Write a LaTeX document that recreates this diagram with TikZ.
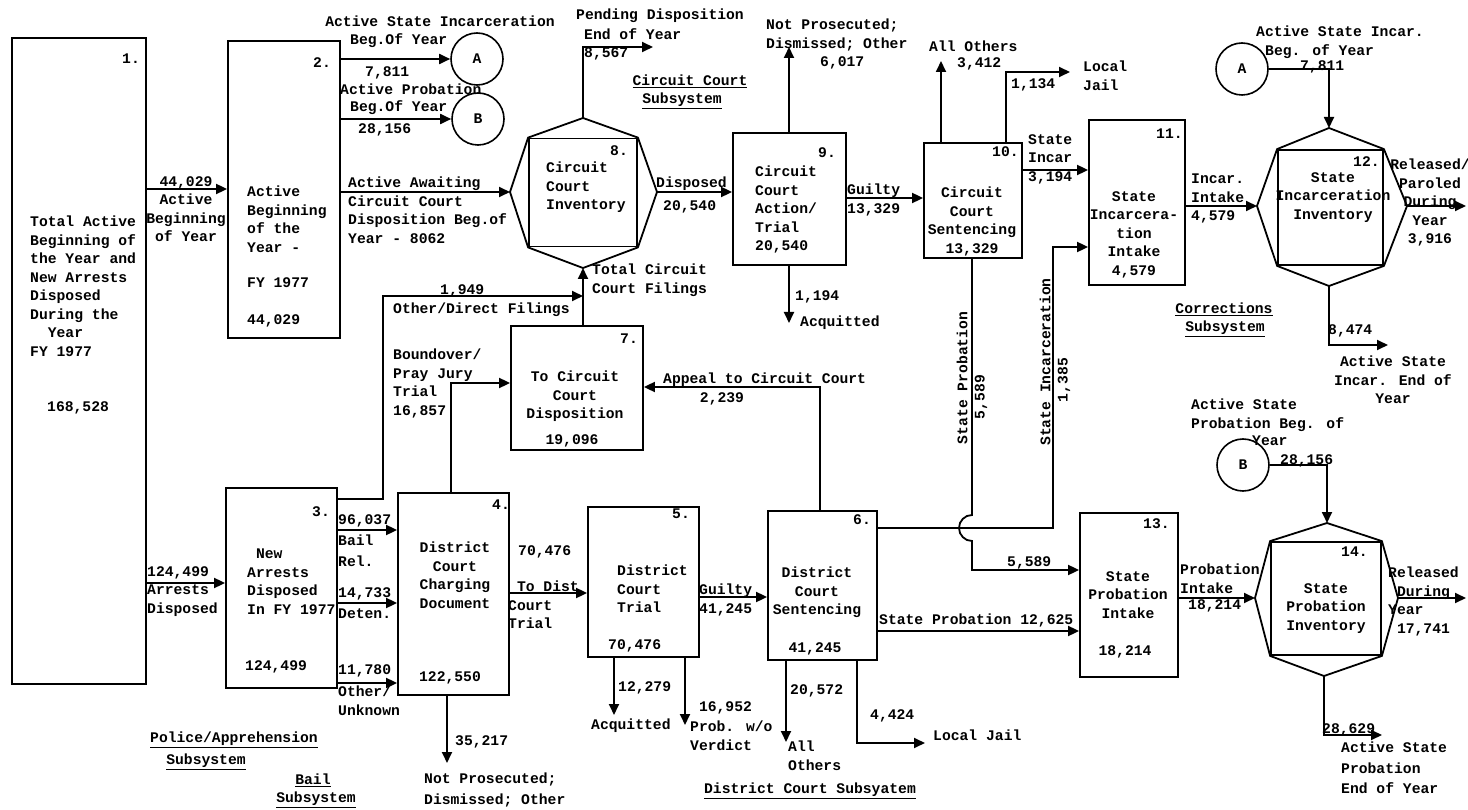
\documentclass[tikz,border=0pt]{standalone}
\usepackage{fontspec}
\setmainfont{Liberation Mono}
\usetikzlibrary{arrows.meta}
\begin{document}
\begin{tikzpicture}[x=1pt,y=-1pt,
  font=\fontsize{14.7}{18.5}\selectfont\bfseries,
  box/.style={draw, line width=1.8pt, inner sep=0pt},
  ln/.style={line width=1.8pt},
  flow/.style={line width=1.8pt, -{Triangle[length=11pt,width=10pt]}},
  tl/.style={anchor=north west, inner sep=0pt, align=left, yshift=6pt},
  tc/.style={anchor=north, inner sep=0pt, align=center, yshift=6pt},
  vt/.style={rotate=90, inner sep=0pt},
  circ/.style={draw, circle, line width=1.6pt, minimum size=52pt, inner sep=0pt}]
\fill[white] (0,0) rectangle (1468,810);
\useasboundingbox (0,0) rectangle (1468,810);

% ---------- boxes ----------
\node[box, minimum width=134pt, minimum height=646pt] (b1) at (79,361) {};
\node[box, minimum width=112pt, minimum height=297pt] (b2) at (284,189.5) {};
\node[box, minimum width=111pt, minimum height=200pt] (b3) at (281.5,588) {};
\node[box, minimum width=111pt, minimum height=202pt] (b4) at (453.5,594) {};
\node[box, minimum width=111pt, minimum height=150pt] (b5) at (643.5,582) {};
\node[box, minimum width=109pt, minimum height=149pt] (b6) at (822.5,585.5) {};
\node[box, minimum width=132pt, minimum height=124pt] (b7) at (577,388) {};
\node[box, minimum width=108pt, minimum height=108pt] (b8) at (583,192.5) {};
\node[box, minimum width=113pt, minimum height=132pt] (b9) at (789.5,199) {};
\node[box, minimum width=98pt, minimum height=115pt] (b10) at (973,200.5) {};
\node[box, minimum width=96pt, minimum height=165pt] (b11) at (1137,202.5) {};
\node[box, minimum width=105pt, minimum height=115pt] (b12) at (1330.5,207.5) {};
\node[box, minimum width=98pt, minimum height=164pt] (b13) at (1129,595) {};
\node[box, minimum width=110pt, minimum height=113pt] (b14) at (1326,598.5) {};

% ---------- circles ----------
\node[circ] (A1) at (477,59) {A};
\node[circ] (B1) at (478,119) {B};
\node[circ] (A2) at (1242,69) {A};
\node[circ] (B2) at (1243,465) {B};

% ---------- hexagon apexes ----------
\coordinate (h8t) at (583,118);
\coordinate (h8l) at (510,192);
\coordinate (h8r) at (657,192);
\coordinate (h8b) at (583,268);
\coordinate (h12t) at (1329,128);
\coordinate (h12l) at (1257,206);
\coordinate (h12r) at (1407,206);
\coordinate (h12b) at (1329,286);
\coordinate (h14t) at (1327,523);
\coordinate (h14l) at (1255,598);
\coordinate (h14r) at (1398,598);
\coordinate (h14b) at (1324,676);
\draw[ln] (h8t) -- (b8.north east) -- (h8r) -- (b8.south east) -- (h8b) -- (b8.south west) -- (h8l) -- (b8.north west) -- cycle;
\draw[ln] (h12t) -- (b12.north east) -- (h12r) -- (b12.south east) -- (h12b) -- (b12.south west) -- (h12l) -- (b12.north west) -- cycle;
\draw[ln] (h14t) -- (b14.north east) -- (h14r) -- (b14.south east) -- (h14b) -- (b14.south west) -- (h14l) -- (b14.north west) -- cycle;

% ---------- free ends ----------
\coordinate (e8top) at (653,47);
\coordinate (e9top) at (789,47);
\coordinate (e9bot) at (789,323);
\coordinate (e10top) at (941,61);
\coordinate (e10jail) at (1070,72);
\coordinate (e12out) at (1466,206);
\coordinate (e12bot) at (1388,345);
\coordinate (e14out) at (1466,598);
\coordinate (e14bot) at (1382,735);
\coordinate (e4bot) at (447,763);
\coordinate (e5acq) at (614,715);
\coordinate (e5prob) at (685,725);
\coordinate (e6oth) at (786,742);
\coordinate (e6jail) at (925,743);

% ---------- connectors ----------
\draw[flow] (b1.east |- 0,189) -- (b2.west |- 0,189);
\draw[flow] (b2.east |- A1.west) -- (A1.west);
\draw[flow] (b2.east |- B1.west) -- (B1.west);
\draw[flow] (b2.east |- h8l) -- (h8l);
\draw[flow] (h8t) -- (h8t |- e8top) -- (e8top);
\draw[flow] (h8r) -- (b9.west |- h8r);
\draw[flow] (h8b |- b7.north) -- (h8b);
\draw[flow] (b3.east |- 0,499) -- (383,499) -- (383,296) -- (h8b |- 0,296);
\draw[flow] (451,0 |- b4.north) -- (451,383) -- (b7.west |- 0,383);
\draw[flow] (820,0 |- b6.north) -- (820,387) -- (b7.east |- 0,387);
\draw[flow] (789,0 |- b9.north) -- (e9top);
\draw[flow] (789,0 |- b9.south) -- (e9bot);
\draw[flow] (b9.east |- 0,198) -- (b10.west |- 0,198);
\draw[flow] (941,0 |- b10.north) -- (e10top);
\draw[flow] (1006,0 |- b10.north) -- (1006,72) -- (e10jail);
\draw[flow] (b10.east |- 0,170) -- (b11.west |- 0,170);
\draw[flow] (b11.east |- h12l) -- (h12l);
\draw[flow] (A2.east) -- (h12t |- A2.east) -- (h12t);
\draw[flow] (h12r) -- (e12out);
\draw[flow] (h12b) -- (h12b |- e12bot) -- (e12bot);
\draw[flow] (972,0 |- b10.south) -- (972,515) arc[start angle=270, end angle=90, radius=13] -- (972,570) -- (b13.west |- 0,570);
\draw[flow] (b6.east |- 0,528) -- (1053,528) -- (1053,247) -- (b11.west |- 0,247);
\draw[flow] (b6.east |- 0,631) -- (b13.west |- 0,631);
\draw[flow] (b13.east |- h14l) -- (h14l);
\draw[flow] (B2.east) -- (h14t |- B2.east) -- (h14t);
\draw[flow] (h14r) -- (e14out);
\draw[flow] (h14b) -- (h14b |- e14bot) -- (e14bot);
\draw[flow] (b1.east |- 0,583) -- (b3.west |- 0,583);
\draw[flow] (b3.east |- 0,530) -- (b4.west |- 0,530);
\draw[flow] (b3.east |- 0,603) -- (b4.west |- 0,603);
\draw[flow] (b3.east |- 0,683) -- (b4.west |- 0,683);
\draw[flow] (447,0 |- b4.south) -- (e4bot);
\draw[flow] (b4.east |- 0,593) -- (b5.west |- 0,593);
\draw[flow] (b5.east |- 0,597) -- (b6.west |- 0,597);
\draw[flow] (614,0 |- b5.south) -- (e5acq);
\draw[flow] (685,0 |- b5.south) -- (e5prob);
\draw[flow] (786,0 |- b6.south) -- (e6oth);
\draw[flow] (857,0 |- b6.south) -- (857,743) -- (e6jail);

% ---------- texts: box 1, 2 ----------
\node[tl] (n1) at (122,60) {1.};
\node[tl] (t1) at (30,222) {Total Active\\Beginning of\\the Year and\\New Arrests\\Disposed\\During the\\~~Year\\FY 1977};
\node[tl] (v1) at (47,407) {168,528};
\node[tl] (n2) at (313,63) {2.};
\node[tl] (t2) at (247,192) {Active\\Beginning\\of the\\Year -};
\node[tl] (t2b) at (247,283) {FY 1977};
\node[tl] (v2) at (247,320) {44,029};
\node[tc] (l12) at (186,182) {44,029\\Active\\Beginning\\of Year};
\node[tc] (lA1a) at (440,22) {Active State Incarceration};
\node[tl] (lA1b) at (350,39) {Beg.Of Year};
\node[tl] (lA1c) at (365,72) {7,811};
\node[tl] (lB1a) at (340,90) {Active Probation};
\node[tl] (lB1b) at (350,106) {Beg.Of Year};
\node[tl] (lB1c) at (358,129) {28,156};
\node[tl] (l28) at (348,183) {Active Awaiting\\Circuit Court\\Disposition Beg.of\\Year - 8062};

% ---------- hexagon 8, box 7 ----------
\node[tl] (l8a) at (576,15) {Pending Disposition};
\node[tl] (l8b) at (584,34) {End of Year};
\node[tl] (l8c) at (584,53) {8,567};
\node[tc] (scc1) at (690,81) {\underline{Circuit Court}};
\node[tc] (scc2) at (682,99) {\underline{Subsystem}};
\node[tl] (n8) at (610,151) {8.};
\node[tl] (t8) at (546,168) {Circuit\\Court\\Inventory};
\node[tl] (l89a) at (656,183) {Disposed};
\node[tl] (l89b) at (663,206) {20,540};
\node[tl] (l78) at (592,270) {Total Circuit\\Court Filings};
\node[tl] (l38a) at (440,290) {1,949};
\node[tl] (l38b) at (393,309) {Other/Direct Filings};
\node[tl] (l47) at (393,355) {Boundover/\\Pray Jury\\Trial\\16,857};
\node[tl] (n7) at (620,340) {7.};
\node[tc] (t7) at (575,377) {To Circuit\\Court\\Disposition};
\node[tc] (v7) at (572,440) {19,096};
\node[tl] (l67a) at (663,379) {Appeal to Circuit Court};
\node[tc] (l67b) at (722,398) {2,239};

% ---------- box 9, 10 ----------
\node[tl] (n9) at (818,153) {9.};
\node[tl] (t9) at (755,172) {Circuit\\Court\\Action/\\Trial\\20,540};
\node[tl] (l9a) at (766,25) {Not Prosecuted;\\Dismissed; Other};
\node[tl] (l9b) at (820,62) {6,017};
\node[tl] (l910) at (847,190) {Guilty\\13,329};
\node[tl] (l9c) at (795,296) {1,194};
\node[tl] (l9d) at (800,322) {Acquitted};
\node[tl] (n10) at (992,152) {10.};
\node[tc] (t10) at (972,193) {Circuit\\Court\\Sentencing\\13,329};
\node[tl] (l10a) at (929,47) {All Others};
\node[tl] (l10b) at (957,63) {3,412};
\node[tl] (l10c) at (1011,84) {1,134};
\node[tl] (l10d) at (1083,67) {Local\\Jail};
\node[tl] (l1011) at (1028,140) {State\\Incar\\3,194};

% ---------- box 11, hexagon 12 ----------
\node[tl] (n11) at (1156,135) {11.};
\node[tc] (t11) at (1134,197) {State\\Incarcera-\\tion\\Intake\\4,579};
\node[tl] (l1112) at (1191,180) {Incar.\\Intake\\4,579};
\node[tl] (n12) at (1353,162) {12.};
\node[tc] (t12) at (1333,178) {State\\Incarceration\\Inventory};
\node[tl] (lA2a) at (1256,32) {Active State Incar.};
\node[tl] (lA2b) at (1265,50) {Beg. of Year};
\node[tl] (lA2c) at (1300,66) {7,811};
\node[tc] (l12r) at (1430,165) {Released/\\Paroled\\During\\Year\\3,916};
\node[tl] (l12b) at (1328,330) {8,474};
\node[tc] (l12c) at (1393,362) {Active State\\Incar. End of\\Year};
\node[tc] (scr1) at (1224,309) {\underline{Corrections}};
\node[tc] (scr2) at (1225,327) {\underline{Subsystem}};

% ---------- vertical labels ----------
\node[vt] (lsp1) at (962,378) {State Probation};
\node[vt] (lsp2) at (981,397) {5,589};
\node[vt] (lsi1) at (1045,362) {State Incarceration};
\node[vt] (lsi2) at (1064,380) {1,385};
\node[tl] (lsp3) at (1007,562) {5,589};

% ---------- box 6 ----------
\node[tl] (n6) at (853,520) {6.};
\node[tc] (t6) at (817,573) {District\\Court\\Sentencing};
\node[tc] (v6) at (815,648) {41,245};
\node[tl] (l613) at (879,620) {State Probation 12,625};
\node[tl] (l6a) at (790,690) {20,572};
\node[tl] (l6b) at (788,747) {All\\Others};
\node[tl] (l6c) at (870,715) {4,424};
\node[tl] (l6d) at (933,736) {Local Jail};
\node[tc] (sdc) at (810,789) {\underline{District Court Subsyatem}};

% ---------- box 13, hexagon 14 ----------
\node[tl] (n13) at (1143,524) {13.};
\node[tc] (t13) at (1128,577) {State\\Probation\\Intake};
\node[tc] (v13) at (1125,651) {18,214};
\node[tl] (l1314a) at (1180,570) {Probation\\Intake};
\node[tl] (l1314b) at (1188,605) {18,214};
\node[tl] (n14) at (1341,553) {14.};
\node[tc] (t14) at (1326,589) {State\\Probation\\Inventory};
\node[tl] (lB2a) at (1191,405) {Active State\\Probation Beg. of};
\node[tl] (lB2b) at (1252,442) {Year};
\node[tl] (lB2c) at (1280,460) {28,156};
\node[tl] (l14r) at (1388,573) {Released\\~During\\Year\\~17,741};
\node[tl] (l14b) at (1322,729) {28,629};
\node[tl] (l14c) at (1341,748) {Active State\\[2pt]Probation\\[2pt]End of Year};

% ---------- box 3, 4, 5 ----------
\node[tl] (n3) at (312,512) {3.};
\node[tl] (t3) at (247,555) {~New\\Arrests\\Disposed\\In FY 1977};
\node[tl] (v3) at (245,666) {124,499};
\node[tl] (l13) at (147,572) {124,499\\Arrests\\Disposed};
\node[tl] (l34a) at (338,520) {96,037\\[2.5pt]Bail\\[2.5pt]Rel.};
\node[tl] (l34b) at (338,593) {14,733\\[3pt]Deten.};
\node[tl] (l34c) at (338,670) {11,780\\[4pt]Other/\\Unknown};
\node[tl] (n4) at (492,506) {4.};
\node[tc] (t4) at (455,548) {District\\Court\\Charging\\Document};
\node[tc] (v4) at (450,677) {122,550};
\node[tl] (l45a) at (518,551) {70,476};
\node[tl] (l45b) at (508,587) {~To Dist\\Court\\Trial};
\node[tl] (l4a) at (455,741) {35,217};
\node[tl] (l4b) at (424,779) {Not Prosecuted;\\[2pt]Dismissed; Other};
\node[tl] (n5) at (672,515) {5.};
\node[tl] (t5) at (617,571) {District\\Court\\Trial};
\node[tl] (v5) at (608,645) {70,476};
\node[tl] (l56) at (699,590) {Guilty\\41,245};
\node[tl] (l5a) at (618,687) {12,279};
\node[tl] (l5b) at (591,725) {Acquitted};
\node[tl] (l5c) at (690,707) {~16,952\\[2pt]Prob. w/o\\Verdict};

% ---------- subsystem labels ----------
\node[tc] (spa1) at (234,738) {\underline{Police/Apprehension}};
\node[tc] (spa2) at (206,760) {\underline{Subsystem}};
\node[tc] (sb1) at (313,780) {\underline{Bail}};
\node[tc] (sb2) at (316,798) {\underline{Subsystem}};
\end{tikzpicture}
\end{document}
